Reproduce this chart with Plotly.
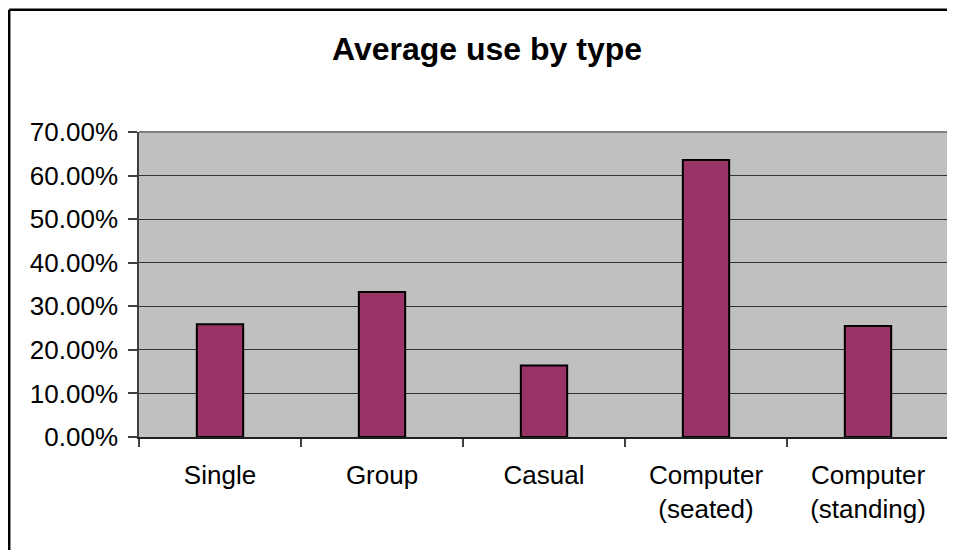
import plotly.graph_objects as go

categories = ["Single", "Group", "Casual", "Computer<br>(seated)", "Computer<br>(standing)"]
values = [0.259, 0.333, 0.164, 0.636, 0.255]
y_ticks = [0.0, 0.1, 0.2, 0.3, 0.4, 0.5, 0.6, 0.7]
title_text = "Average use by type"

FONT = "Liberation Sans, Arial, sans-serif"
OFF = 8  # page body offset
W, H = 955 - OFF, 550 - OFF
L, R, T, B = 139 - OFF, 6.3, 131.7 - OFF, 112.7
pw = W - L - R
ph = H - T - B

fig = go.Figure(
    go.Bar(
        x=categories,
        y=values,
        marker=dict(color="#993366", line=dict(color="#000000", width=2)),
        width=0.286,
        hoverinfo="skip",
    )
)

bx = (1.25 - L) / pw
by = (T + ph - 1.25) / ph

fig.update_layout(
    width=W,
    height=H,
    autosize=False,
    margin=dict(l=L, r=R, t=T, b=B, pad=0),
    paper_bgcolor="#FFFFFF",
    plot_bgcolor="#C0C0C0",
    showlegend=False,
    font=dict(family=FONT, size=26, color="#000000"),
    title=dict(
        text="<b>" + title_text + "</b>",
        font=dict(family=FONT, size=32, color="#000000"),
        xref="container",
        yref="container",
        x=(487 - OFF) / W,
        xanchor="center",
        y=1 - (38 - OFF) / H,
        yanchor="top",
    ),
    xaxis=dict(
        type="category",
        tickson="boundaries",
        ticks="outside",
        ticklen=8,
        tickwidth=1.5,
        tickcolor="#404040",
        showline=True,
        linecolor="#202020",
        linewidth=1.5,
        showgrid=False,
        ticklabelstandoff=14,
        tickfont=dict(family=FONT, size=26, color="#000000"),
    ),
    yaxis=dict(
        range=[0, 0.7],
        tickvals=y_ticks,
        tickformat=".2%",
        ticks="outside",
        ticklen=9,
        tickwidth=1.5,
        tickcolor="#404040",
        showline=True,
        linecolor="#404040",
        linewidth=1.5,
        showgrid=True,
        gridcolor="#333333",
        gridwidth=1,
        zeroline=False,
        ticklabelstandoff=5,
        tickfont=dict(family=FONT, size=26, color="#000000"),
    ),
    shapes=[
        # plot area border (top / right, gray)
        dict(type="line", xref="paper", yref="paper", x0=0, x1=1, y0=1, y1=1,
             line=dict(color="#808080", width=2), layer="above"),
        dict(type="line", xref="paper", yref="paper", x0=1, x1=1, y0=0, y1=1,
             line=dict(color="#808080", width=2), layer="above"),
        # outer chart border (left / top visible)
        dict(type="line", xref="paper", yref="paper",
             x0=bx, x1=bx, y0=by, y1=-(B + 20) / ph,
             line=dict(color="#000000", width=2.5), layer="above"),
        dict(type="line", xref="paper", yref="paper",
             x0=bx, x1=(W + 20 - L) / pw, y0=by, y1=by,
             line=dict(color="#000000", width=2.5), layer="above"),
    ],
)

fig.write_html("out.html")
